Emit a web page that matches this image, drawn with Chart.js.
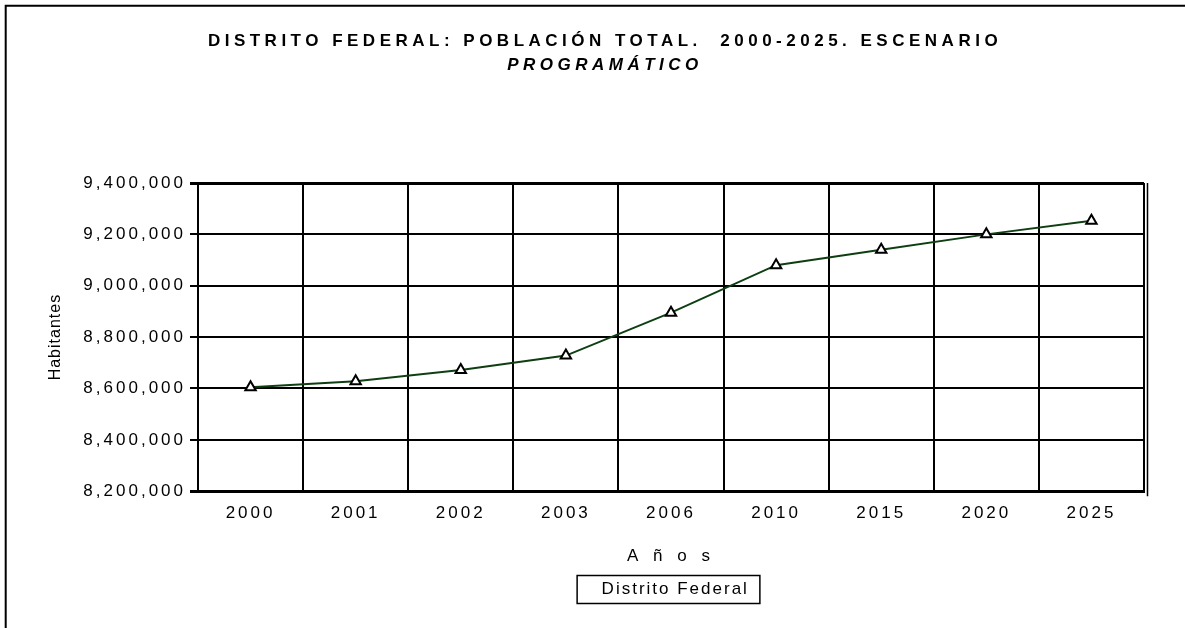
<!DOCTYPE html>
<html lang="es">
<head>
<meta charset="UTF-8">
<title>Distrito Federal: población total 2000-2025</title>
<script src="https://cdn.jsdelivr.net/npm/chart.js"></script>
<style>
    body { margin: 0; background: #fff; }
    #wrap { width: 1185px; height: 628px; position: relative; }
</style>
</head>
<body>
<div id="wrap"><canvas id="chart"></canvas></div>
<script>
    // Datos
    const years = ['2000', '2001', '2002', '2003', '2006', '2010', '2015', '2020', '2025'];
    const poblacion = [8605000, 8628000, 8672000, 8728000, 8895000, 9080000, 9140000, 9200000, 9253000];
    const yMin = 8200000, yMax = 9400000, yStep = 200000;

    const serieNombre = 'Distrito Federal';
    const titulo = 'DISTRITO FEDERAL: POBLACIÓN TOTAL.  2000-2025. ESCENARIO';
    const subtitulo = 'PROGRAMÁTICO';
    const ejeX = 'A ñ o s';
    const ejeY = 'Habitantes';

    const FONT = "'Liberation Sans', Arial, sans-serif";

    // envuelve un método para dibujar/medir con otro espaciado de letras
    function conEspaciado(obj, metodo, px) {
        if (!obj || obj['_esp_' + metodo]) return;
        const original = obj[metodo];
        obj[metodo] = function () {
            const c = this.ctx;
            const antes = c.letterSpacing;
            c.letterSpacing = px;
            const r = original.apply(this, arguments);
            c.letterSpacing = antes;
            return r;
        };
        obj['_esp_' + metodo] = true;
    }

    const espaciado = {
        id: 'espaciado',
        beforeLayout(chart) {
            chart.ctx.letterSpacing = '3px';
            chart.boxes.forEach(b => {
                if (b === chart.legend) {
                    conEspaciado(b, 'fit', '2px');
                    conEspaciado(b, 'draw', '2px');
                } else if (b.options && typeof b.options.text !== 'undefined' && b.position === 'top') {
                    conEspaciado(b, 'draw', '4.5px');
                }
            });
            conEspaciado(chart.scales.x, 'drawTitle', '5px');
            conEspaciado(chart.scales.y, 'drawTitle', '1px');
        },
        beforeDraw(chart) {
            chart.ctx.letterSpacing = '3px';
        }
    };

    // marco exterior, doble línea a la derecha y recuadro de la leyenda
    const marco = {
        id: 'marco',
        afterDraw(chart) {
            const c = chart.ctx, a = chart.chartArea;
            c.save();
            c.strokeStyle = '#000';
            c.lineWidth = 2;
            c.beginPath();
            c.moveTo(5.7, chart.height);
            c.lineTo(5.7, 5.7);
            c.lineTo(chart.width, 5.7);
            c.stroke();
            c.lineWidth = 1.5;
            c.beginPath();
            c.moveTo(a.right + 3.5, a.top);
            c.lineTo(a.right + 3.5, a.bottom + 5);
            c.stroke();
            const hb = chart.legend.legendHitBoxes[0];
            if (hb) {
                c.strokeRect(hb.left - 16, hb.top + hb.height / 2 - 14, hb.width + 27, 28);
            }
            c.restore();
        }
    };

    const ctx = document.getElementById('chart');
    const chart = new Chart(ctx, {
        type: 'line',
        data: {
            labels: years,
            datasets: [{
                label: serieNombre,
                data: poblacion,
                borderColor: '#0e3f12',
                borderWidth: 2,
                tension: 0,
                fill: false,
                pointStyle: 'triangle',
                pointRadius: 6,
                pointHoverRadius: 6,
                pointBackgroundColor: '#fff',
                pointBorderColor: '#000',
                pointBorderWidth: 2
            }]
        },
        options: {
            responsive: true,
            maintainAspectRatio: false,
            animation: false,
            layout: { padding: { left: 66, right: 41, top: 10, bottom: 20 } },
            plugins: {
                title: {
                    display: true,
                    text: titulo,
                    color: '#000',
                    font: { family: FONT, size: 17, weight: 'bold', lineHeight: 1.2 },
                    padding: { top: 21, bottom: 0 }
                },
                subtitle: {
                    display: true,
                    text: subtitulo,
                    color: '#000',
                    font: { family: FONT, size: 17, weight: 'bold', style: 'italic', lineHeight: 1.2 },
                    padding: { top: 3.6, bottom: 107.6 }
                },
                legend: {
                    position: 'bottom',
                    fullSize: false,
                    labels: {
                        color: '#000',
                        font: { family: FONT, size: 17 },
                        boxWidth: 0,
                        boxHeight: 0,
                        padding: 14,
                        generateLabels(chart) {
                            const items = Chart.defaults.plugins.legend.labels.generateLabels(chart);
                            items.forEach(it => {
                                it.fillStyle = 'rgba(0,0,0,0)';
                                it.strokeStyle = 'rgba(0,0,0,0)';
                                it.lineWidth = 0;
                            });
                            return items;
                        }
                    }
                },
                tooltip: { enabled: false }
            },
            scales: {
                x: {
                    offset: true,
                    grid: { offset: true, color: '#000', lineWidth: 2, drawTicks: false },
                    border: { color: '#000', width: 3 },
                    ticks: {
                        color: '#000',
                        font: { family: FONT, size: 17 },
                        padding: 12,
                        maxRotation: 0,
                        autoSkip: false
                    },
                    title: {
                        display: true,
                        text: ejeX,
                        color: '#000',
                        font: { family: FONT, size: 17 },
                        padding: { top: 11, bottom: 0 }
                    }
                },
                y: {
                    min: yMin,
                    max: yMax,
                    afterFit(s) { s.width = 132; },
                    grid: {
                        color: '#000',
                        lineWidth: c => (c.tick && (c.tick.value === yMax || c.tick.value === yMin)) ? 3 : 2,
                        tickLength: 8
                    },
                    border: { color: '#000', width: 2 },
                    ticks: {
                        stepSize: yStep,
                        color: '#000',
                        font: { family: FONT, size: 17 },
                        padding: 4,
                        callback: v => v.toLocaleString('en-US')
                    },
                    title: {
                        display: true,
                        text: ejeY,
                        color: '#000',
                        font: { family: FONT, size: 16 },
                        padding: { top: -20, bottom: 0 }
                    }
                }
            }
        },
        plugins: [espaciado, marco]
    });
</script>
</body>
</html>
